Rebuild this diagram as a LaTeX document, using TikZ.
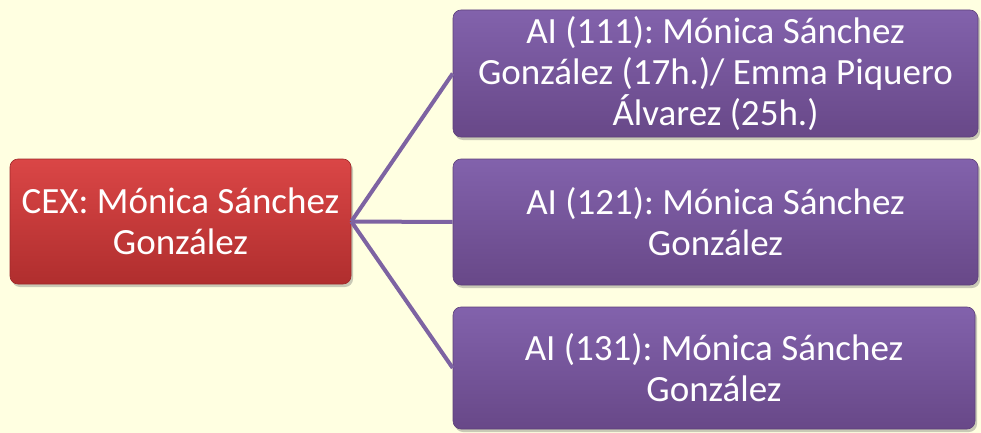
\documentclass[tikz,border=0pt]{standalone}
\usepackage{fontspec}
\setmainfont{Carlito}
\frenchspacing
\usetikzlibrary{shadows}
\definecolor{bg}{RGB}{255,255,225}
\definecolor{redtop}{RGB}{218,70,70}
\definecolor{redbot}{RGB}{176,46,46}
\definecolor{purtop}{RGB}{130,98,172}
\definecolor{purbot}{RGB}{104,72,136}
\definecolor{linkc}{RGB}{125,99,162}
\tikzset{
  box/.style={rounded corners=8pt, align=center, text=white, inner sep=0pt,
    font=\fontsize{37pt}{41pt}\selectfont,
    drop shadow={shadow xshift=2pt, shadow yshift=-3pt, opacity=0.35, fill=black!60}},
  redbox/.style={box, top color=redtop, bottom color=redbot, draw=redbot!90!black, line width=0.6pt},
  purbox/.style={box, top color=purtop, bottom color=purbot, draw=purbot!90!black, line width=0.6pt},
  link/.style={draw=linkc, line width=4pt}
}
\begin{document}
\begin{tikzpicture}[x=1pt,y=-1pt]
\fill[bg] (0,0) rectangle (981,433);
\useasboundingbox (0,0) rectangle (981,433);
\node[redbox, minimum width=341pt, minimum height=125pt] (cex) at (180.5,221.5)
  {CEX: Mónica Sánchez\\González};
\node[purbox, minimum width=525pt, minimum height=127pt] (a111) at (715.5,73.5)
  {AI (111): Mónica Sánchez\\González (17h.)/ Emma Piquero\\Álvarez (25h.)};
\node[purbox, minimum width=525pt, minimum height=126pt] (a121) at (715.5,222)
  {AI (121): Mónica Sánchez\\González};
\node[purbox, minimum width=522pt, minimum height=122pt] (a131) at (714,368)
  {AI (131): Mónica Sánchez\\González};
\draw[link] (cex.east) -- (a111.west);
\draw[link] (cex.east) -- (a121.west);
\draw[link] (cex.east) -- (a131.west);
\end{tikzpicture}
\end{document}
